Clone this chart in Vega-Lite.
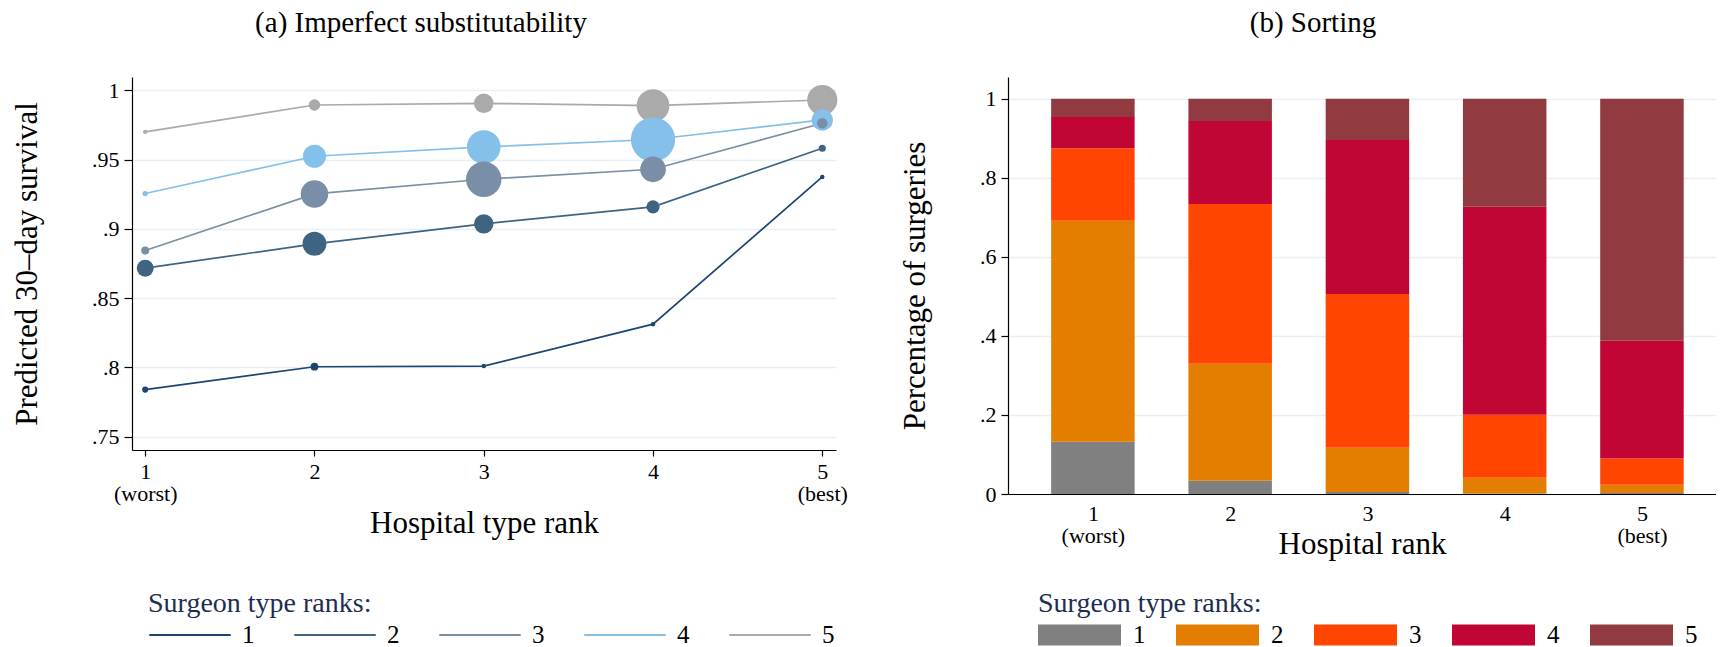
{
  "$schema": "https://vega.github.io/schema/vega-lite/v6.json",
  "background": "white",
  "padding": {"left": 11, "right": 0, "top": 9, "bottom": 0},
  "spacing": 51,
  "config": {
    "font": "Liberation Serif",
    "view": {"stroke": null},
    "axis": {
      "labelFont": "Liberation Serif",
      "titleFont": "Liberation Serif",
      "labelColor": "black",
      "titleColor": "black",
      "domainColor": "black",
      "domainWidth": 1.2,
      "tickColor": "black",
      "tickWidth": 1.2,
      "gridColor": "#e8f0f2",
      "gridWidth": 1.6,
      "labelFontSize": 22,
      "titleFontSize": 31,
      "titleFontWeight": "normal",
      "labelLineHeight": 22
    },
    "title": {"font": "Liberation Serif", "fontSize": 29, "fontWeight": "normal", "color": "black", "baseline": "bottom"},
    "legend": {
      "labelFont": "Liberation Serif",
      "titleFont": "Liberation Serif",
      "labelFontSize": 25,
      "titleFontSize": 28,
      "titleFontWeight": "normal",
      "titleColor": "#1e2d52",
      "labelColor": "black",
      "titleLimit": 500,
      "padding": 0
    }
  },
  "datasets": {
    "survival": [
      {"hospital": 1, "surgeon": "5", "survival": 0.970, "weight": 0.010},
      {"hospital": 2, "surgeon": "5", "survival": 0.9894, "weight": 0.066},
      {"hospital": 3, "surgeon": "5", "survival": 0.9906, "weight": 0.19},
      {"hospital": 4, "surgeon": "5", "survival": 0.9889, "weight": 0.537},
      {"hospital": 5, "surgeon": "5", "survival": 0.993, "weight": 0.454},
      {"hospital": 1, "surgeon": "4", "survival": 0.9255, "weight": 0.014},
      {"hospital": 2, "surgeon": "4", "survival": 0.9524, "weight": 0.265},
      {"hospital": 3, "surgeon": "4", "survival": 0.9591, "weight": 0.567},
      {"hospital": 4, "surgeon": "4", "survival": 0.9645, "weight": 0.98},
      {"hospital": 5, "surgeon": "4", "survival": 0.9786, "weight": 0.226},
      {"hospital": 1, "surgeon": "3", "survival": 0.8844, "weight": 0.032},
      {"hospital": 2, "surgeon": "3", "survival": 0.9252, "weight": 0.377},
      {"hospital": 3, "surgeon": "3", "survival": 0.9358, "weight": 0.628},
      {"hospital": 4, "surgeon": "3", "survival": 0.943, "weight": 0.33},
      {"hospital": 5, "surgeon": "3", "survival": 0.9762, "weight": 0.057},
      {"hospital": 1, "surgeon": "2", "survival": 0.8716, "weight": 0.142},
      {"hospital": 2, "surgeon": "2", "survival": 0.8892, "weight": 0.286},
      {"hospital": 3, "surgeon": "2", "survival": 0.9036, "weight": 0.19},
      {"hospital": 4, "surgeon": "2", "survival": 0.9159, "weight": 0.088},
      {"hospital": 5, "surgeon": "2", "survival": 0.9582, "weight": 0.025},
      {"hospital": 1, "surgeon": "1", "survival": 0.784, "weight": 0.019},
      {"hospital": 2, "surgeon": "1", "survival": 0.8005, "weight": 0.030},
      {"hospital": 3, "surgeon": "1", "survival": 0.801, "weight": 0.010},
      {"hospital": 4, "surgeon": "1", "survival": 0.8312, "weight": 0.010},
      {"hospital": 5, "surgeon": "1", "survival": 0.9375, "weight": 0.010}
    ],
    "sorting": [
      {"hospital": 1, "surgeon": "1", "share": 0.132},
      {"hospital": 1, "surgeon": "2", "share": 0.559},
      {"hospital": 1, "surgeon": "3", "share": 0.1835},
      {"hospital": 1, "surgeon": "4", "share": 0.079},
      {"hospital": 1, "surgeon": "5", "share": 0.0465},
      {"hospital": 2, "surgeon": "1", "share": 0.0337},
      {"hospital": 2, "surgeon": "2", "share": 0.2957},
      {"hospital": 2, "surgeon": "3", "share": 0.4044},
      {"hospital": 2, "surgeon": "4", "share": 0.2098},
      {"hospital": 2, "surgeon": "5", "share": 0.0564},
      {"hospital": 3, "surgeon": "1", "share": 0.005},
      {"hospital": 3, "surgeon": "2", "share": 0.1121},
      {"hospital": 3, "surgeon": "3", "share": 0.3892},
      {"hospital": 3, "surgeon": "4", "share": 0.3892},
      {"hospital": 3, "surgeon": "5", "share": 0.1045},
      {"hospital": 4, "surgeon": "1", "share": 0.001},
      {"hospital": 4, "surgeon": "2", "share": 0.0403},
      {"hospital": 4, "surgeon": "3", "share": 0.1592},
      {"hospital": 4, "surgeon": "4", "share": 0.5265},
      {"hospital": 4, "surgeon": "5", "share": 0.273},
      {"hospital": 5, "surgeon": "1", "share": 0.0025},
      {"hospital": 5, "surgeon": "2", "share": 0.0211},
      {"hospital": 5, "surgeon": "3", "share": 0.0665},
      {"hospital": 5, "surgeon": "4", "share": 0.2974},
      {"hospital": 5, "surgeon": "5", "share": 0.6125}
    ]
  },
  "resolve": {"scale": {"color": "independent", "x": "independent", "y": "independent"}, "legend": {"color": "independent"}},
  "hconcat": [
    {
      "width": 704,
      "height": 373,
      "title": {"text": "(a) Imperfect substitutability", "anchor": "middle", "dx": -63, "offset": 39},
      "data": {"name": "survival"},
      "encoding": {
        "x": {
          "field": "hospital", "type": "quantitative",
          "scale": {"domain": [0.922, 5.081], "nice": false, "zero": false},
          "axis": {
            "values": [1, 2, 3, 4, 5],
            "title": "Hospital type rank",
            "grid": false,
            "tickSize": 6,
            "labelPadding": 5,
            "titlePadding": 4,
            "labelLineHeight": 22,
            "labelExpr": "datum.value == 1 ? ['1', '(worst)'] : datum.value == 5 ? ['5', '(best)'] : datum.label"
          }
        },
        "y": {
          "field": "survival", "type": "quantitative",
          "scale": {"domain": [0.7404, 1.0096], "nice": false, "zero": false},
          "axis": {
            "values": [0.75, 0.8, 0.85, 0.9, 0.95, 1],
            "title": "Predicted 30\u2013day survival",
            "grid": true,
            "tickSize": 8,
            "labelPadding": 5,
            "titlePadding": 48,
            "labelExpr": "datum.value >= 1 ? '1' : slice(format(datum.value, '.2~f'), 1)"
          }
        }
      },
      "layer": [
        {
          "mark": {"type": "line", "strokeWidth": 1.7},
          "encoding": {
            "color": {
              "field": "surgeon", "type": "nominal",
              "scale": {"domain": ["1", "2", "3", "4", "5"], "range": ["#1c4573", "#3e6482", "#7a8fa7", "#84c0e9", "#aaaaaa"]},
              "legend": {
                "title": "Surgeon type ranks:",
                "orient": "none",
                "legendX": 16,
                "legendY": 513,
                "direction": "horizontal",
                "symbolType": "stroke",
                "symbolSize": 6642,
                "symbolStrokeWidth": 2,
                "clipHeight": 26,
                "labelOffset": 10,
                "columnPadding": 38,
                "titlePadding": 4
              }
            }
          }
        },
        {
          "mark": {"type": "circle", "opacity": 1},
          "encoding": {
            "color": {"field": "surgeon", "type": "nominal", "legend": null},
            "size": {"field": "weight", "type": "quantitative", "scale": {"domain": [0, 1], "range": [0, 2000]}, "legend": null}
          }
        }
      ]
    },
    {
      "width": 708,
      "height": 417,
      "title": {"text": "(b) Sorting", "anchor": "middle", "dx": -49, "offset": 39},
      "data": {"name": "sorting"},
      "mark": {"type": "bar", "width": 83.5},
      "encoding": {
        "x": {
          "field": "hospital", "type": "quantitative",
          "scale": {"domain": [0.418, 5.503], "nice": false, "zero": false},
          "axis": {
            "values": [1, 2, 3, 4, 5],
            "title": "Hospital rank",
            "grid": false,
            "ticks": false,
            "labelPadding": 9,
            "titlePadding": -17,
            "labelLineHeight": 22,
            "labelExpr": "datum.value == 1 ? ['1', '(worst)'] : datum.value == 5 ? ['5', '(best)'] : datum.label"
          }
        },
        "y": {
          "field": "share", "type": "quantitative", "stack": "zero",
          "scale": {"domain": [0, 1.055], "nice": false},
          "axis": {
            "values": [0, 0.2, 0.4, 0.6, 0.8, 1],
            "title": "Percentage of surgeries",
            "grid": true,
            "tickSize": 7,
            "labelPadding": 5,
            "titlePadding": 48,
            "labelExpr": "datum.value == 0 ? '0' : datum.value >= 1 ? '1' : slice(format(datum.value, '.1f'), 1)"
          }
        },
        "order": {"field": "surgeon", "type": "ordinal", "sort": "ascending"},
        "color": {
          "field": "surgeon", "type": "nominal",
          "scale": {"domain": ["1", "2", "3", "4", "5"], "range": ["#808080", "#e37e00", "#ff4500", "#c10534", "#913a40"]},
          "legend": {
            "title": "Surgeon type ranks:",
            "orient": "none",
            "legendX": 30,
            "legendY": 513,
            "direction": "horizontal",
            "symbolType": "M-1,-0.253H1V0.253H-1Z",
            "symbolSize": 6889,
            "symbolStrokeWidth": 0,
            "clipHeight": 26,
            "labelOffset": 12,
            "columnPadding": 30,
            "titlePadding": 4
          }
        }
      }
    }
  ]
}
